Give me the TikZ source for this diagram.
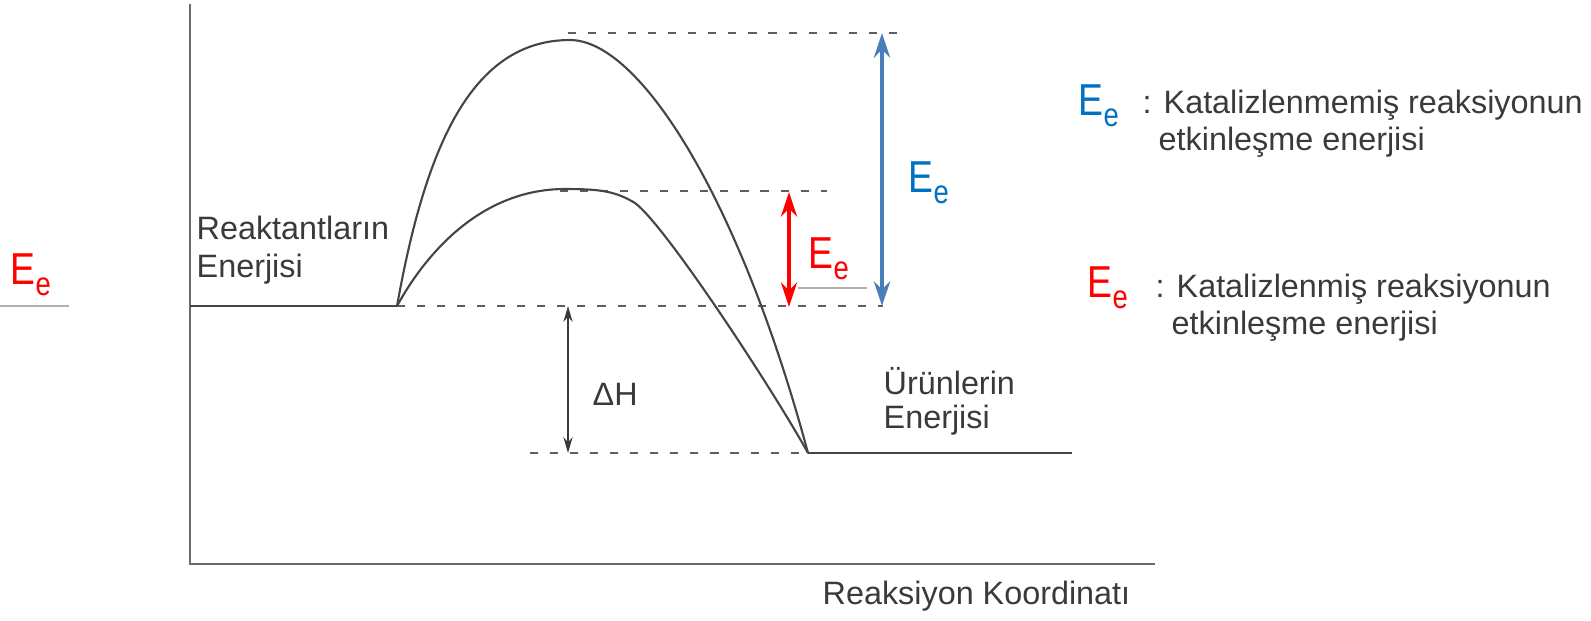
\documentclass[tikz,border=0pt]{standalone}
\usepackage{fontspec}
\setmainfont{Liberation Sans}
\usetikzlibrary{arrows.meta,positioning}
\definecolor{txtgray}{HTML}{3A3A3A}
\definecolor{curvegray}{HTML}{454545}
\definecolor{axisgray}{HTML}{6A6A6A}
\definecolor{dashgray}{HTML}{5E5E5E}
\definecolor{eblue}{HTML}{0070C0}
\definecolor{arrowblue}{HTML}{4A7EBB}
\definecolor{ered}{HTML}{FF0000}
\newcommand{\Ee}{\scalebox{1}[1.2]{E\raisebox{-0.5ex}{\fontsize{7.8}{8}\selectfont e}}}

\begin{document}
\begin{tikzpicture}[x=0.01cm,y=-0.01cm,
every node/.style={inner sep=0pt,text=txtgray,font=\fontsize{9.2}{11}\selectfont},
levelline/.style={dashgray,line width=0.75pt,dash pattern=on 2.3pt off 3.4pt},
energy/.style={curvegray,line width=0.6pt},
bigE/.style={font=\fontsize{10.6}{12}\selectfont,anchor=base west}]
\useasboundingbox (0,0) rectangle (1591,620);

% axes
\coordinate (O) at (190,564);
\coordinate (Ytop) at (190,4);
\coordinate (Xend) at (1155,564);
\draw[axisgray,line width=0.8pt] (Ytop)--(O)--(Xend);

% energy levels
\coordinate (R0) at (190,306);
\coordinate (R1) at (397,306);
\coordinate (R2) at (883,306);
\coordinate (P0) at (530,453);
\coordinate (P1) at (808,453);
\coordinate (P2) at (1072,453);
\coordinate (T1) at (568,33);
\coordinate (T2) at (902,33);
\coordinate (C1) at (560,191);
\coordinate (C2) at (827,191);
\draw[energy] (R0)--(R1);
\draw[energy] (P1)--(P2);
\draw[levelline] (R1)--(R2);
\draw[levelline] (P0)--(P1);
\draw[levelline] (T1)--(T2);
\draw[levelline] (C1)--(C2);

% reaction paths
\coordinate (Top) at (570,40);
\coordinate (Cat) at (565,189);
\coordinate (Sh) at (635,203);
\draw[energy] (R1) .. controls (425,150) and (470,40) .. (Top)
  .. controls (640,40) and (740,200) .. (P1);
\draw[energy] (R1) .. controls (425,255) and (480,189) .. (Cat)
  .. controls (600,189) and (615,191) .. (Sh)
  .. controls (665,225) and (772,388) .. (P1);

% arrows
\coordinate (B1) at (882,33);
\coordinate (B2) at (882,306);
\coordinate (A1) at (789,192);
\coordinate (A2) at (789,307);
\coordinate (H1) at (568,306);
\coordinate (H2) at (568,453);
\draw[arrowblue,line width=1.4pt,{Stealth[length=7pt,width=4.6pt]}-{Stealth[length=7pt,width=4.6pt]}] (B1)--(B2);
\draw[ered,line width=1.1pt,{Stealth[length=7pt,width=4.6pt]}-{Stealth[length=7pt,width=4.6pt]}] (A1)--(A2);
\draw[txtgray,line width=0.5pt,{Stealth[length=4.5pt,width=2.6pt]}-{Stealth[length=4.5pt,width=2.6pt]}] (H1)--(H2);

% thin stray lines
\coordinate (S1) at (798,288);
\coordinate (S2) at (867,288);
\coordinate (L1) at (0,306);
\coordinate (L2) at (69,306);
\draw[black!30,line width=0.3pt] (S1)--(S2);
\draw[black!30,line width=0.3pt] (L1)--(L2);

% labels
\node[bigE,text=ered] (EeLeft) at (10,284) {\Ee};
\node[bigE,text=ered] (EeRed) at (808,268) {\Ee};
\node[bigE,text=eblue] (EeBlue) at (908,192) {\Ee};
\node[anchor=base west] (dH) at (592,405) {ΔH};
\node[anchor=base west] (reak1) at (196,239) {Reaktantların};
\node[anchor=base west] (reak2) at (196,277) {Enerjisi};
\node[anchor=base west] (urun1) at (883,394) {Ürünlerin};
\node[anchor=base west] (urun2) at (883,428) {Enerjisi};
\node[anchor=base west] (xlabel) at (822,604) {Reaksiyon Koordinatı};

% legend
\node[bigE,text=eblue] (legB) at (1078,115) {\Ee};
\node[anchor=base west] (legB1) at (1142,113) {: Katalizlenmemiş reaksiyonun};
\node[anchor=base west] (legB2) at (1158,150) {etkinleşme enerjisi};
\node[bigE,text=ered] (legR) at (1087,297) {\Ee};
\node[anchor=base west] (legR1) at (1155,297) {: Katalizlenmiş reaksiyonun};
\node[anchor=base west] (legR2) at (1171,334) {etkinleşme enerjisi};
\end{tikzpicture}
\end{document}
